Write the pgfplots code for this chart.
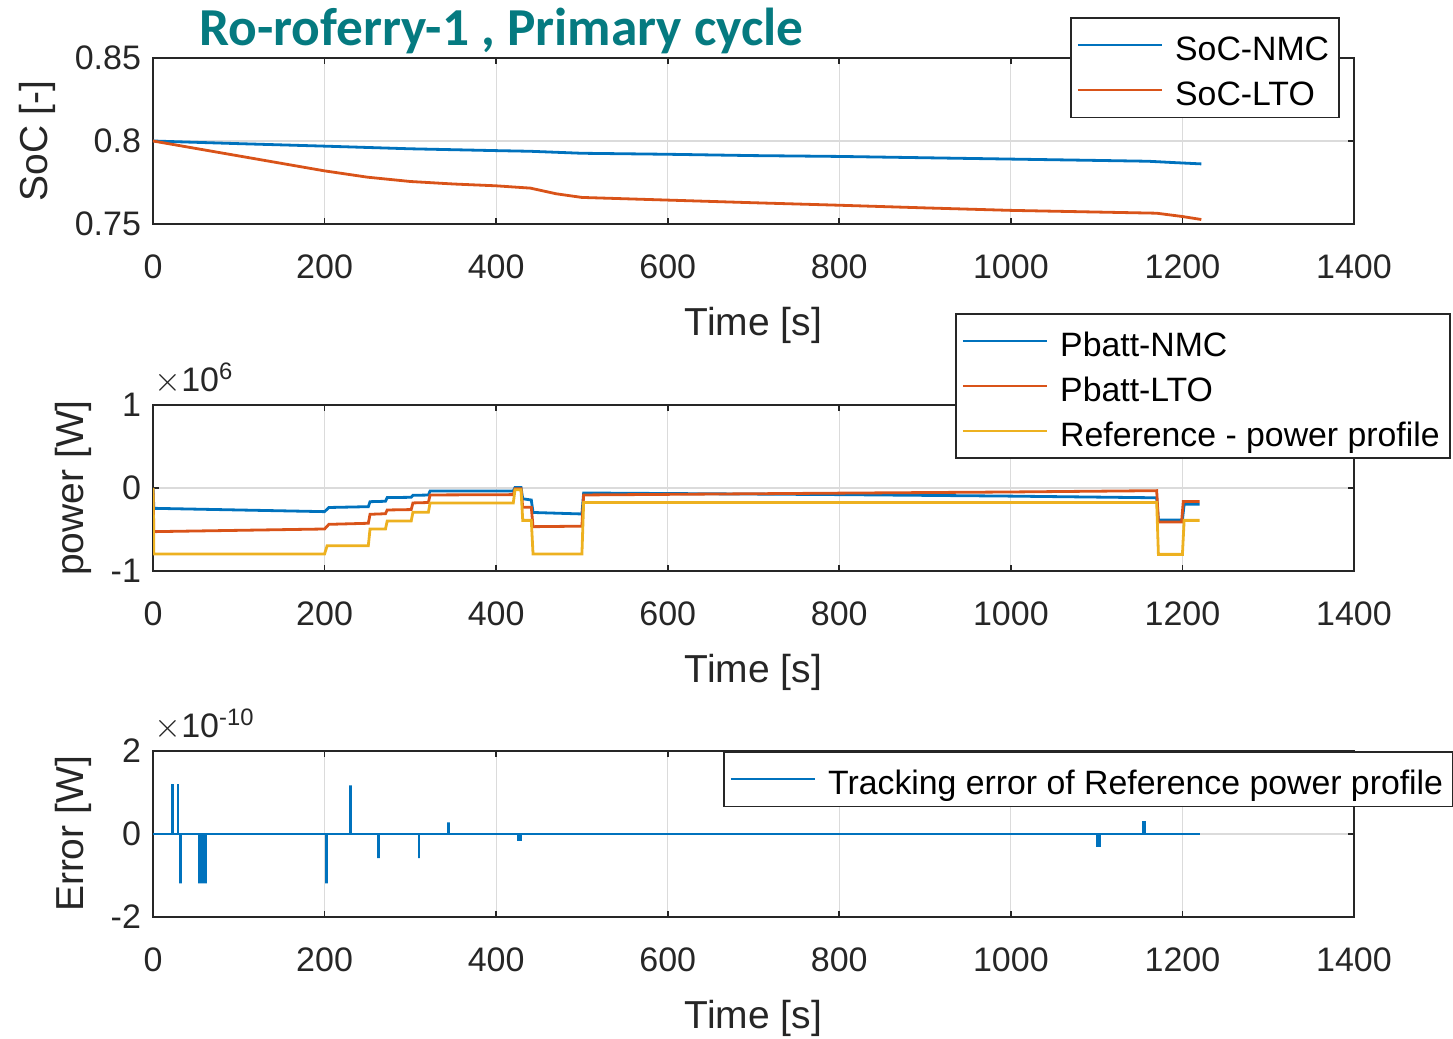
\documentclass[border=0pt]{standalone}
\usepackage{fontspec}
\setmainfont{Liberation Sans}
\newfontfamily\titlefont{Carlito}
\usepackage{pgfplots}
\pgfplotsset{compat=1.18}
\definecolor{mblue}{rgb}{0,0.447,0.741}
\definecolor{morange}{rgb}{0.85,0.325,0.098}
\definecolor{myellow}{rgb}{0.929,0.694,0.125}
\definecolor{mgray}{rgb}{0.15,0.15,0.15}
\definecolor{titlec}{RGB}{5,122,128}
\newcommand{\lstr}{\rule[-4.7pt]{0pt}{21.6pt}}
\pgfplotsset{
  mstyle/.style={
    scale only axis, width=600.5pt, height=83pt,
    xmin=0, xmax=1400, xtick={0,200,...,1400},
    axis line style={mgray, line width=0.8pt},
    tick style={mgray, line width=0.8pt},
    major tick length=3pt,
    grid=major, grid style={black!14, line width=0.6pt},
    tick label style={font=\fontsize{17}{20}\selectfont, text=mgray},
    xticklabel style={yshift=-12pt},
    yticklabel style={xshift=-2.5pt},
    label style={font=\fontsize{19.5}{23}\selectfont, text=mgray},
    every axis x label/.append style={at={(ticklabel cs:0.5,7pt)}},
    every axis y label/.append style={at={(ticklabel cs:0.5,2.5pt)}},
    /pgf/number format/assume math mode=true,
    /pgf/number format/1000 sep={},
    xlabel={Time [s]},
    legend style={font=\fontsize{16.9}{20}\selectfont, draw=mgray, line width=0.8pt,
      inner xsep=3pt, inner ysep=2.5pt, row sep=0pt,
      cells={anchor=west, inner sep=2pt}},
    legend image code/.code={\draw[##1, line width=1pt] (0pt,0pt) -- (42pt,0pt); \path (46pt,0pt);},
    every axis plot/.append style={line width=1.4pt},
    ytick scale label code/.code={\(\times\)10\textsuperscript{##1}},
    every y tick scale label/.style={at={(rel axis cs:0,1)}, anchor=south west,
      inner sep=0pt, yshift=5pt, xshift=3pt, font=\fontsize{17}{20}\selectfont, text=mgray},
  }
}
\begin{document}
\begin{tikzpicture}
\path[use as bounding box] (0,0) rectangle (726.5pt,519.5pt);
\node[anchor=base west, font=\titlefont\bfseries\fontsize{26.7}{30}\selectfont, text=titlec, inner sep=0pt] at (99.5pt,496.5pt) {Ro-roferry-1 , Primary cycle};

% ---------- SoC ----------
\begin{axis}[mstyle, at={(76.5pt,490.5pt)}, anchor=north west,
  ymin=0.75, ymax=0.85, ytick={0.75,0.8,0.85}, scaled y ticks=false,
  ylabel={SoC [-]},
  legend style={at={(0.7635,1.247)}, anchor=north west}]
\addplot[mblue] coordinates {(0,0.8) (100,0.7984) (200,0.7969) (300,0.7953) (400,0.7942) (440,0.7938) (470,0.7932) (500,0.7926) (600,0.7920) (700,0.7912) (800,0.7907) (900,0.7899) (1000,0.7891) (1100,0.7883) (1160,0.7878) (1190,0.7870) (1222,0.7862)};
\addlegendentry{\lstr SoC-NMC}
\addplot[morange] coordinates {(0,0.8) (50,0.7955) (100,0.7910) (150,0.7865) (200,0.7820) (250,0.7782) (300,0.7756) (350,0.7741) (400,0.7730) (440,0.7716) (470,0.7682) (500,0.7660) (600,0.7644) (700,0.7628) (800,0.7613) (900,0.7597) (1000,0.7582) (1100,0.7572) (1170,0.7565) (1200,0.7545) (1222,0.7527)};
\addlegendentry{\lstr SoC-LTO}
\end{axis}

% ---------- Power ----------
\begin{axis}[mstyle, at={(76.5pt,317pt)}, anchor=north west,
  ymin=-1e6, ymax=1e6, ytick={-1e6,0,1e6},
  ylabel={power [W]},
  legend style={at={(0.6678,1.554)}, anchor=north west}]
\addplot[mblue] coordinates {(0,0) (1,-2.45e5) (200,-2.85e5) (205,-2.35e5) (251,-2.25e5) (253,-1.65e5) (271,-1.60e5) (273,-1.16e5) (301,-1.12e5) (303,-0.88e5) (321,-0.85e5) (323,-0.36e5) (420,-0.36e5) (422,0.05e5) (429,0.05e5) (431,-1.30e5) (441,-1.45e5) (443,-2.95e5) (500,-3.13e5) (502,-0.60e5) (800,-0.80e5) (1000,-0.98e5) (1170,-1.18e5) (1172,-3.85e5) (1200,-3.85e5) (1202,-1.95e5) (1220,-1.95e5)};
\addlegendentry{\lstr Pbatt-NMC}
\addplot[morange] coordinates {(0,0) (1,-5.26e5) (200,-4.94e5) (205,-4.38e5) (251,-4.25e5) (253,-3.17e5) (271,-3.10e5) (273,-2.65e5) (301,-2.60e5) (303,-1.80e5) (321,-1.75e5) (323,-0.84e5) (420,-0.80e5) (422,-0.10e5) (429,-0.10e5) (431,-2.33e5) (441,-2.33e5) (443,-4.66e5) (500,-4.60e5) (502,-0.84e5) (800,-0.62e5) (1000,-0.48e5) (1170,-0.32e5) (1172,-4.10e5) (1199,-4.10e5) (1201,-1.62e5) (1220,-1.62e5)};
\addlegendentry{\lstr Pbatt-LTO}
\addplot[myellow] coordinates {(0,0) (1,-7.95e5) (200,-7.95e5) (203,-6.95e5) (251,-6.95e5) (253,-4.94e5) (271,-4.94e5) (273,-3.98e5) (301,-3.98e5) (303,-2.93e5) (321,-2.93e5) (323,-1.80e5) (420,-1.80e5) (422,-0.20e5) (429,-0.20e5) (431,-3.90e5) (441,-3.90e5) (443,-7.95e5) (500,-7.95e5) (502,-1.74e5) (1170,-1.74e5) (1172,-8.0e5) (1200,-8.0e5) (1202,-3.9e5) (1220,-3.9e5)};
\addlegendentry{\lstr Reference - power profile}
\end{axis}

% ---------- Error ----------
\begin{axis}[mstyle, at={(76.5pt,144pt)}, anchor=north west,
  ymin=-2e-10, ymax=2e-10, ytick={-2e-10,0,2e-10},
  ylabel={Error [W]},
  legend style={at={(0.4746,1.0)}, anchor=north west}]
\addplot[mblue] coordinates {(0,0) (22.6,0) (22.6,1.2e-10) (22.6,0) (29.2,0) (29.2,1.2e-10) (29.2,0) (31.6,0) (31.6,-1.19e-10) (31.6,0)
 (54,0) (54,-1.19e-10) (54,0) (55.5,0) (55.5,-1.19e-10) (55.5,0) (57,0) (57,-1.19e-10) (57,0) (58.5,0) (58.5,-1.19e-10) (58.5,0) (60,0) (60,-1.19e-10) (60,0) (61.5,0) (61.5,-1.19e-10) (61.5,0)
 (202,0) (202,-1.19e-10) (202,0) (230,0) (230,1.17e-10) (230,0) (263,0) (263,-0.58e-10) (263,0) (310,0) (310,-0.58e-10) (310,0) (344,0) (344,0.28e-10) (344,0)
 (426,0) (426,-0.14e-10) (428,-0.14e-10) (428,0)
 (1101,0) (1101,-0.28e-10) (1104,-0.28e-10) (1104,0) (1154,0) (1154,0.28e-10) (1156,0.28e-10) (1156,0) (1220,0)};
\addlegendentry{\lstr Tracking error of Reference power profile}
\end{axis}
\end{tikzpicture}
\end{document}
